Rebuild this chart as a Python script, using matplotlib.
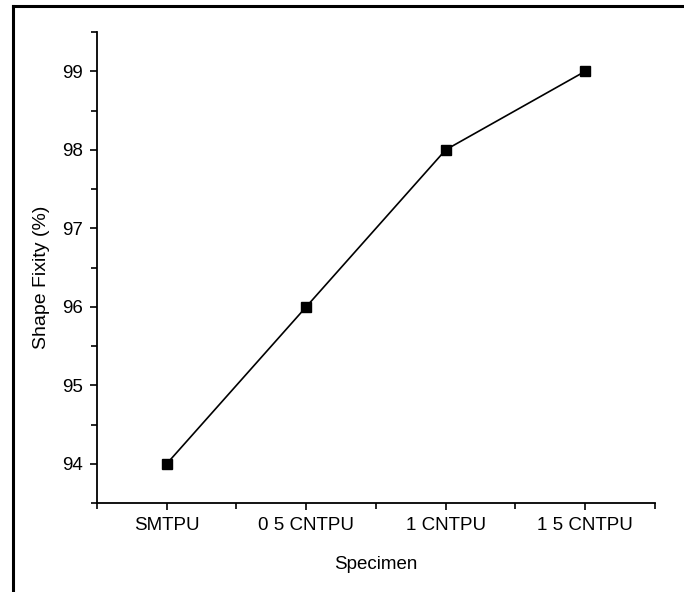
import matplotlib
matplotlib.use('Agg')
import matplotlib.pyplot as plt
from matplotlib.lines import Line2D
from matplotlib.ticker import MultipleLocator
import numpy as np

specimens = ['SMTPU', '0 5 CNTPU', '1 CNTPU', '1 5 CNTPU']
shape_fixity = [94, 96, 98, 99]

plt.rcParams['font.family'] = ['Liberation Sans', 'DejaVu Sans']

fig = plt.figure(figsize=(6.84, 5.92), dpi=100)
ax = fig.add_axes([0.1418, 0.1503, 0.8158, 0.7956])

x = np.arange(len(specimens))
ax.plot(x, shape_fixity, color='black', lw=1.2, marker='s', markersize=7.5,
        markerfacecolor='black', markeredgecolor='black')

ax.set_xlim(-0.5, 3.5)
ax.set_ylim(93.5, 99.5)
ax.set_xticks(x)
ax.set_xticklabels(specimens)
ax.xaxis.set_minor_locator(MultipleLocator(0.5))
ax.yaxis.set_major_locator(MultipleLocator(1))
ax.yaxis.set_minor_locator(MultipleLocator(0.5))

for side in ['top', 'right']:
    ax.spines[side].set_visible(False)
for side in ['left', 'bottom']:
    ax.spines[side].set_linewidth(1.3)

ax.tick_params(which='major', direction='out', length=5, width=1.2, labelsize=13.5, pad=5)
ax.tick_params(which='minor', direction='out', length=4, width=1.2)

ax.set_xlabel('Specimen', fontsize=13.5, labelpad=16)
ax.set_ylabel('Shape Fixity (%)', fontsize=14)
ax.yaxis.set_label_coords(-0.085, 0.48)

# outer frame (left and top edges only visible)
fig.add_artist(Line2D([12.5 / 684, 12.5 / 684], [0, 1 - 5.5 / 592], color='black', lw=2.2,
                      transform=fig.transFigure))
fig.add_artist(Line2D([12.5 / 684, 1], [1 - 5.5 / 592, 1 - 5.5 / 592], color='black', lw=2.2,
                      transform=fig.transFigure))

fig.savefig('out.png', dpi=100)
